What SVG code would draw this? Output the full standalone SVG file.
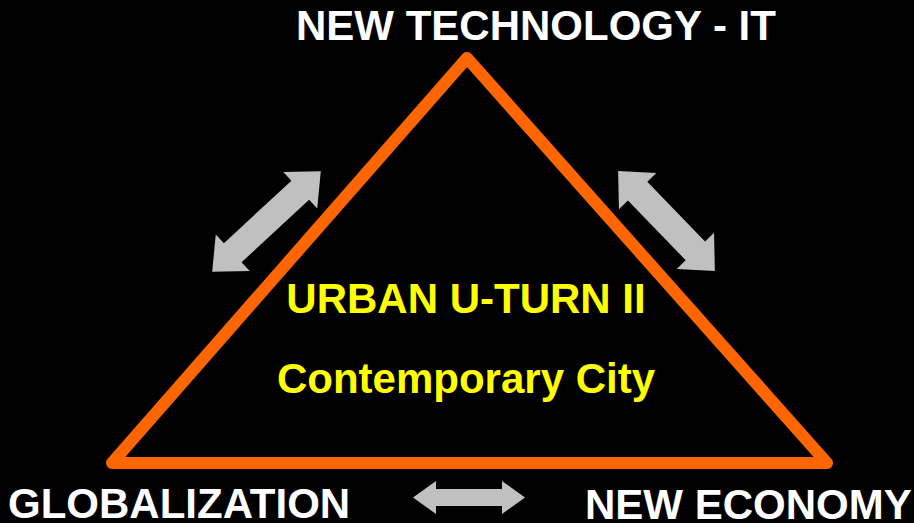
<svg xmlns="http://www.w3.org/2000/svg" width="914" height="523" viewBox="0 0 914 523">
  <style>
    .lbl { font-family: "Liberation Sans", Arial, sans-serif; font-weight: bold; font-size: 42px; fill: #FFFFFF; }
    .inner { font-family: "Liberation Sans", Arial, sans-serif; font-weight: bold; font-size: 42px; fill: #FFFF00; }
    .arrow { fill: #C0C0C0; }
  </style>
  <rect x="0" y="0" width="914" height="523" fill="#000000"/>
  <g id="triangle">
    <path d="M112,463 L467,58 L827,463 Z" fill="none" stroke="#FF6600" stroke-width="12" stroke-linejoin="round"/>
  </g>
  <g id="connectors">
    <polygon class="arrow" transform="translate(266.5,221.5) rotate(-42.8)" points="-74,0 -46,-25 -46,-13 46,-13 46,-25 74,0 46,25 46,13 -46,13 -46,25"/>
    <polygon class="arrow" transform="translate(666.5,221) rotate(45.9)" points="-69.5,0 -41.5,-26 -41.5,-13.5 41.5,-13.5 41.5,-26 69.5,0 41.5,26 41.5,13.5 -41.5,13.5 -41.5,26"/>
    <polygon class="arrow" transform="translate(469,497.5)" points="-56,0 -33,-16.5 -33,-8.5 33,-8.5 33,-16.5 56,0 33,16.5 33,8.5 -33,8.5 -33,16.5"/>
  </g>
  <g id="node-tech"><text class="lbl" x="296" y="40">NEW TECHNOLOGY - IT</text></g>
  <g id="node-center">
    <text class="inner" x="466" y="313" text-anchor="middle">URBAN U-TURN II</text>
    <text class="inner" x="466" y="393" text-anchor="middle">Contemporary City</text>
  </g>
  <g id="node-glob"><text class="lbl" x="8" y="518">GLOBALIZATION</text></g>
  <g id="node-econ"><text class="lbl" x="585" y="519">NEW ECONOMY</text></g>
</svg>
